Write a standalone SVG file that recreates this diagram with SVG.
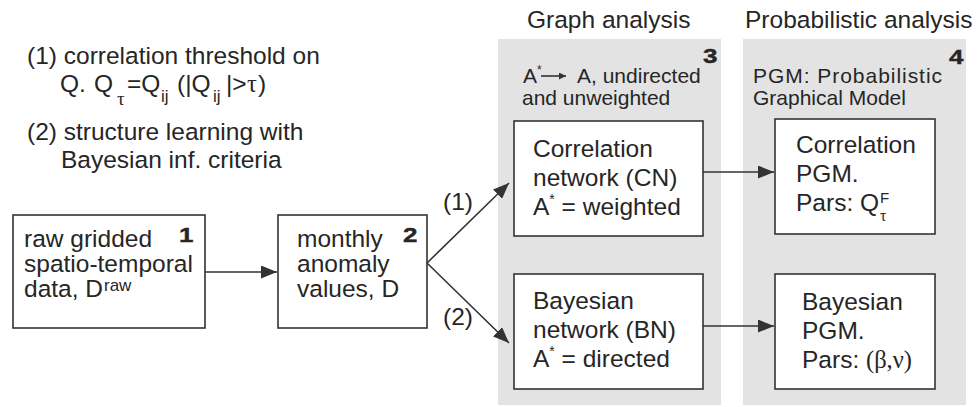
<svg xmlns="http://www.w3.org/2000/svg" width="979" height="407" viewBox="0 0 979 407">
<style>
text{font-family:"Liberation Sans",Arial,sans-serif;fill:#262626}
.t{font-size:24.5px}
.s{font-size:21px}
.n{font-size:20px;font-weight:bold;stroke:#262626;stroke-width:0.4}
.g{font-family:"Liberation Serif","Times New Roman",serif}
.box{fill:#fff;stroke:#333;stroke-width:1.6}
.panel{fill:#e3e3e3}
.c{stroke:#333;stroke-width:1.6;fill:none}
</style>
<defs>
<marker id="ah" markerUnits="userSpaceOnUse" markerWidth="17" markerHeight="13" refX="16" refY="6.5" orient="auto">
<path d="M0,0 L16,6.5 L0,13 z" fill="#333"/>
</marker>
<marker id="sah" markerUnits="userSpaceOnUse" markerWidth="8" markerHeight="7" refX="7" refY="3.5" orient="auto">
<path d="M0,0 L7,3.5 L0,7 z" fill="#333"/>
</marker>
</defs>

<g id="legend">
<text class="t" x="27" y="64">(1) correlation threshold on</text>
<text class="t" y="92"><tspan x="60">Q.</tspan><tspan x="94">Q</tspan><tspan class="g" x="117" y="105" font-size="19">τ</tspan><tspan x="127" y="92">=Q</tspan><tspan x="161" y="102" font-size="17">ij</tspan><tspan x="177" y="92">(|Q</tspan><tspan x="213" y="102" font-size="17">ij</tspan><tspan x="226" y="92">|&gt;</tspan><tspan class="g" x="247">τ</tspan><tspan x="258">)</tspan></text>
<text class="t" x="27" y="140">(2) structure learning with</text>
<text class="t" x="61" y="168">Bayesian inf. criteria</text>
</g>

<g id="panel3">
<rect class="panel" x="498" y="39" width="223" height="366"/>
<text class="t" x="527" y="28">Graph analysis</text>
<text class="n" transform="translate(703,63) scale(1.3,1)">3</text>
<text class="s" x="523" y="83">A<tspan font-size="12" dy="-9">*</tspan></text>
<line class="c" x1="541" y1="76" x2="566" y2="76" stroke-width="1.2" marker-end="url(#sah)"/>
<text class="s" x="577" y="83">A, undirected</text>
<text class="s" x="522" y="105">and unweighted</text>
</g>

<g id="panel4">
<rect class="panel" x="743" y="39" width="223" height="366"/>
<text class="t" x="745" y="28">Probabilistic analysis</text>
<text class="n" transform="translate(949,64) scale(1.3,1)">4</text>
<text class="s" x="753" y="83" textLength="189" lengthAdjust="spacing">PGM: Probabilistic</text>
<text class="s" x="753" y="105">Graphical Model</text>
</g>

<g id="node1">
<rect class="box" x="13" y="215" width="192" height="113"/>
<text class="n" transform="translate(179,242) scale(1.3,1)">1</text>
<text class="t" x="24" y="247">raw gridded</text>
<text class="t" x="24" y="272">spatio-temporal</text>
<text class="t" x="24" y="297">data, D<tspan font-size="17" dx="1" dy="-6">raw</tspan></text>
</g>

<g id="node2">
<rect class="box" x="278" y="215" width="149" height="113"/>
<text class="n" transform="translate(403,242) scale(1.3,1)">2</text>
<text class="t" x="297" y="247">monthly</text>
<text class="t" x="297" y="272">anomaly</text>
<text class="t" x="297" y="297">values, D</text>
</g>

<g id="node-cn">
<rect class="box" x="514" y="121" width="189" height="115"/>
<text class="t" x="533" y="157">Correlation</text>
<text class="t" x="533" y="186">network (CN)</text>
<text class="t" x="533" y="215">A<tspan font-size="14" dy="-11">*</tspan><tspan dy="11"> = weighted</tspan></text>
</g>

<g id="node-bn">
<rect class="box" x="514" y="274" width="189" height="115"/>
<text class="t" x="533" y="309">Bayesian</text>
<text class="t" x="533" y="338">network (BN)</text>
<text class="t" x="533" y="367">A<tspan font-size="14" dy="-11">*</tspan><tspan dy="11"> = directed</tspan></text>
</g>

<g id="node-cpgm">
<rect class="box" x="775" y="119" width="160" height="115"/>
<text class="t" x="796" y="153">Correlation</text>
<text class="t" x="796" y="182">PGM.</text>
<text class="t" x="796" y="211">Pars: Q</text>
<text x="880" y="203" font-size="15">F</text>
<text class="g" x="880" y="221" font-size="16">τ</text>
</g>

<g id="node-bpgm">
<rect class="box" x="775" y="274" width="160" height="115"/>
<text class="t" x="802" y="310">Bayesian</text>
<text class="t" x="802" y="339">PGM.</text>
<text class="t" x="802" y="368">Pars: <tspan class="g">(β,ν)</tspan></text>
</g>

<g id="connectors">
<line class="c" x1="205" y1="272" x2="277" y2="272" marker-end="url(#ah)"/>
<line class="c" x1="427" y1="263" x2="509" y2="183" marker-end="url(#ah)"/>
<line class="c" x1="427" y1="263" x2="509" y2="343" marker-end="url(#ah)"/>
<line class="c" x1="703" y1="172" x2="774" y2="172" marker-end="url(#ah)"/>
<line class="c" x1="703" y1="326" x2="774" y2="326" marker-end="url(#ah)"/>
<text class="t" x="443" y="210">(1)</text>
<text class="t" x="443" y="325">(2)</text>
</g>
</svg>
